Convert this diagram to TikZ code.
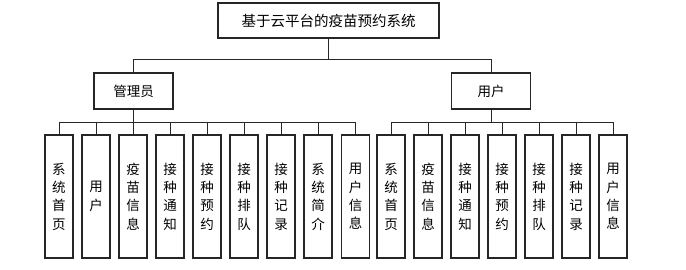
\documentclass[tikz,border=0pt]{standalone}
\usepackage{fontspec}
\newfontfamily\cjk{Noto Sans CJK SC}
\begin{document}
\begin{tikzpicture}[x=1pt,y=-1pt,
  box/.style={draw=black!85,line width=1.1pt,inner sep=0pt,align=center},
  topbox/.style={box,minimum width=221pt,minimum height=35pt,font=\cjk\fontsize{14.5}{18}\selectfont},
  midbox/.style={box,minimum width=79pt,minimum height=36pt,font=\cjk\fontsize{13.5}{18}\selectfont},
  leaf/.style={box,minimum width=28pt,minimum height=123pt,font=\cjk\fontsize{13.5}{18.3}\selectfont},
  conn/.style={draw=black!85,line width=1pt}]
\useasboundingbox (0,0) rectangle (686,270);
\node[topbox] (root) at (328.5,20.5) {基于云平台的疫苗预约系统};
\node[midbox] (mgr) at (133.5,91) {管理员};
\node[midbox] (usr) at (491,91) {用户};
\coordinate (bus0) at (0,60);
\coordinate (bus1) at (0,122);
% manager leaves
\foreach \i/\x/\t in {1/59/{系\\统\\首\\页},2/96/{用\\户},3/133/{疫\\苗\\信\\息},4/170/{接\\种\\通\\知},5/207/{接\\种\\预\\约},6/244/{接\\种\\排\\队},7/281/{接\\种\\记\\录},8/318/{系\\统\\简\\介},9/355.5/{用\\户\\信\\息}}{
  \node[leaf] (m\i) at (\x,196.5) {\t};
  \draw[conn] (mgr.south) -- (mgr.south |- bus1) -| (m\i.north);
}
% user leaves
\foreach \i/\x/\t in {1/391/{系\\统\\首\\页},2/428/{疫\\苗\\信\\息},3/465/{接\\种\\通\\知},4/502/{接\\种\\预\\约},5/539/{接\\种\\排\\队},6/576/{接\\种\\记\\录},7/613/{用\\户\\信\\息}}{
  \node[leaf] (u\i) at (\x,196.5) {\t};
  \draw[conn] (usr.south) -- (usr.south |- bus1) -| (u\i.north);
}
\draw[conn] (root.south) -- (root.south |- bus0) -| (mgr.north);
\draw[conn] (root.south) -- (root.south |- bus0) -| (usr.north);
\end{tikzpicture}
\end{document}
